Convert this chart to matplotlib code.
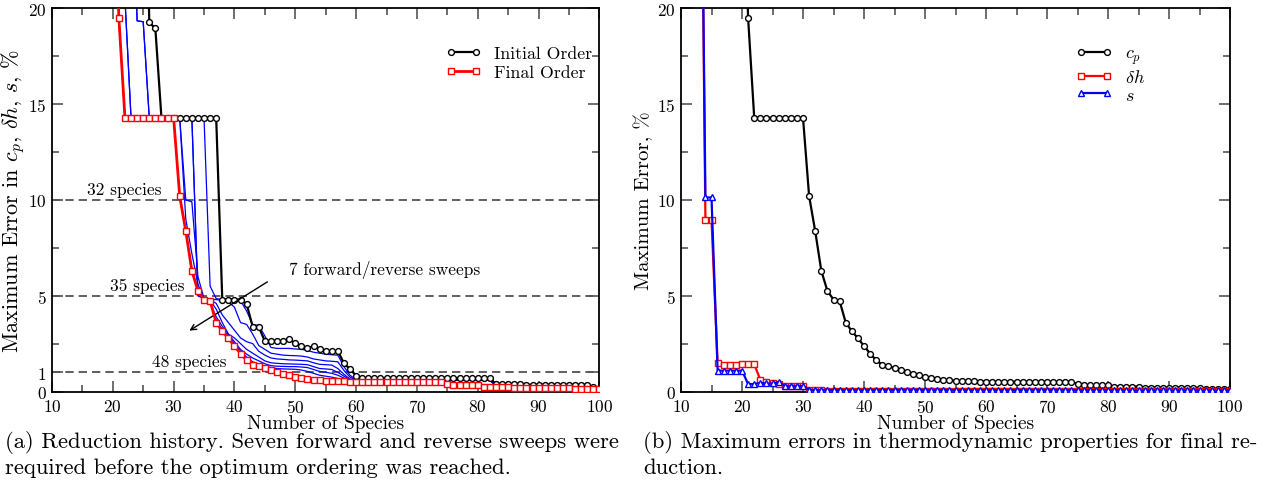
import matplotlib
matplotlib.use("Agg")
import matplotlib.pyplot as plt
import numpy as np

plt.rcParams['font.family'] = ['cmr10', 'DejaVu Serif']
plt.rcParams['mathtext.fontset'] = 'cm'
plt.rcParams['axes.formatter.use_mathtext'] = True
plt.rcParams['axes.unicode_minus'] = False

# --- data: left panel (reduction history) ---
initial_start = 25
initial_order = [35.0, 19.27, 18.95,
                 14.29, 14.29, 14.29, 14.29, 14.29, 14.29, 14.29, 14.29, 14.29, 14.29,
                 4.80, 4.80, 4.80, 4.80, 4.57, 3.38, 3.38,
                 2.62, 2.62, 2.62, 2.62, 2.74, 2.51, 2.39, 2.27, 2.36, 2.22, 2.10, 2.10, 2.12,
                 1.47, 1.17, 0.83,
                 0.69, 0.69, 0.69, 0.69, 0.69, 0.69, 0.69, 0.69, 0.69, 0.69, 0.69,
                 0.69, 0.69, 0.69, 0.69, 0.69, 0.69, 0.69, 0.69, 0.69, 0.69, 0.69,
                 0.38, 0.38, 0.38, 0.38, 0.38,
                 0.35, 0.35, 0.35, 0.35, 0.35, 0.35, 0.35, 0.35, 0.35, 0.35, 0.35,
                 0.22, 0.13]

final_start = 20
final_order = [30.0, 19.50,
               14.29, 14.29, 14.29, 14.29, 14.29, 14.29, 14.29, 14.29, 14.29,
               10.20, 8.37, 6.30, 5.25, 4.80, 4.72, 3.60, 3.15, 2.78, 2.38,
               1.98, 1.63, 1.40, 1.31, 1.23, 1.14, 1.03, 0.92, 0.84, 0.77,
               0.70, 0.65, 0.62, 0.58, 0.56, 0.55, 0.54, 0.53, 0.52, 0.52,
               0.51, 0.51, 0.51, 0.51, 0.51, 0.51, 0.51, 0.51, 0.51, 0.51, 0.51, 0.51, 0.51, 0.51,
               0.39, 0.33, 0.33, 0.33, 0.33, 0.33,
               0.26, 0.26, 0.26, 0.26, 0.26,
               0.20, 0.20, 0.20, 0.20, 0.20, 0.20, 0.20, 0.20, 0.20, 0.20,
               0.15, 0.15, 0.14, 0.13, 0.13]

# intermediate sweeps, values up to 60 species, then a shared tail (61..100)
sweep_starts = [23, 23, 21, 21, 20, 20]
sweeps = [
    [30.0, 19.35, 19.30, 14.29, 14.29, 14.29, 14.29, 14.29, 14.29, 14.29, 14.29, 14.29, 14.29,
     5.50, 4.85, 4.80, 4.80, 4.78, 4.75, 4.20, 3.50, 3.45, 2.90, 2.30, 2.25, 2.25, 2.25,
     2.22, 2.20, 2.15, 2.05, 2.00, 1.95, 1.92, 1.90, 1.30, 0.85, 0.62],
    [30.0, 19.35, 19.30, 14.29, 14.29, 14.29, 14.29, 14.29, 14.29, 14.29, 14.29,
     5.00, 4.85, 4.80, 4.80, 4.75, 4.70, 4.40, 3.60, 3.50, 3.00, 2.40, 2.20, 2.00, 1.95, 1.90,
     1.88, 1.87, 1.85, 1.80, 1.70, 1.65, 1.60, 1.58, 1.55, 1.10, 0.75, 0.60],
    [30.0, 20.5, 14.29, 14.29, 14.29, 14.29, 14.29, 14.29, 14.29, 14.29, 14.29, 14.29, 14.29,
     5.00, 4.85, 4.80, 4.60, 4.00, 3.60, 3.20, 2.80, 2.60, 2.50, 2.10, 1.90, 1.75, 1.70, 1.68,
     1.65, 1.64, 1.62, 1.60, 1.50, 1.42, 1.40, 1.38, 1.20, 0.90, 0.65, 0.58],
    [30.0, 20.5, 14.29, 14.29, 14.29, 14.29, 14.29, 14.29, 14.29, 14.29, 14.29,
     10.00, 9.90, 6.00, 4.85, 4.75, 4.30, 3.60, 3.00, 2.80, 2.50, 2.20, 2.00, 1.80, 1.60, 1.50,
     1.47, 1.45, 1.44, 1.43, 1.42, 1.40, 1.30, 1.20, 1.18, 1.15, 1.00, 0.80, 0.62, 0.57],
    [30.0, 19.50, 14.29, 14.29, 14.29, 14.29, 14.29, 14.29, 14.29, 14.29, 14.29, 14.29,
     9.00, 7.20, 5.60, 4.80, 4.60, 3.90, 3.40, 3.00, 2.60, 2.20, 1.95, 1.75, 1.60, 1.45, 1.35,
     1.32, 1.31, 1.30, 1.30, 1.28, 1.25, 1.15, 1.05, 1.00, 0.95, 0.85, 0.70, 0.60, 0.56],
    [30.0, 19.50, 14.29, 14.29, 14.29, 14.29, 14.29, 14.29, 14.29, 14.29, 14.29,
     10.20, 8.40, 6.40, 5.30, 4.80, 4.70, 3.70, 3.25, 2.90, 2.50, 2.10, 1.80, 1.55, 1.42, 1.33,
     1.25, 1.20, 1.18, 1.17, 1.16, 1.12, 1.05, 0.95, 0.85, 0.80, 0.75, 0.68, 0.60, 0.56, 0.55],
]
sweep_tail = [0.60, 0.60, 0.60, 0.60, 0.60, 0.60, 0.60, 0.60, 0.60, 0.60, 0.60,
              0.60, 0.60, 0.60, 0.60, 0.60, 0.60, 0.60, 0.60, 0.60, 0.60, 0.60,
              0.30, 0.30, 0.30, 0.30, 0.30, 0.30, 0.30, 0.30,
              0.20, 0.20, 0.20, 0.20, 0.20, 0.20, 0.20, 0.20, 0.20, 0.13]

ref_levels = [10, 5, 1]
ref_labels = ['32 species', '35 species', '48 species']

# --- data: right panel (final reduction, per property) ---
prop_start = 13
dh_error = [40.0, 8.95, 8.95, 1.47, 1.40, 1.40, 1.41, 1.42, 1.42, 1.42,
            0.62, 0.48, 0.43, 0.40, 0.27, 0.27, 0.27, 0.27, 0.10, 0.08,
            0.06, 0.05, 0.05, 0.04, 0.04, 0.03, 0.03, 0.03, 0.03, 0.03,
            0.03, 0.03, 0.03, 0.03, 0.03, 0.03, 0.03, 0.03, 0.03, 0.03,
            0.03, 0.03, 0.03, 0.03, 0.03, 0.03, 0.03, 0.03, 0.03, 0.03,
            0.03, 0.03, 0.03, 0.03, 0.03, 0.03, 0.03, 0.03, 0.03, 0.03,
            0.03, 0.03, 0.03, 0.03, 0.03, 0.03, 0.03, 0.03, 0.03, 0.03,
            0.03, 0.03, 0.03, 0.03, 0.03, 0.03, 0.03, 0.03, 0.03, 0.03,
            0.03, 0.03, 0.03, 0.03, 0.03, 0.03, 0.03, 0.03]
s_error = [40.0, 10.13, 10.13, 1.09, 1.09, 1.09, 1.09, 1.09, 0.39, 0.39,
           0.45, 0.42, 0.42, 0.49, 0.29, 0.29, 0.29, 0.29, 0.10, 0.08,
           0.08, 0.08, 0.08, 0.08, 0.08, 0.08, 0.08, 0.08, 0.08, 0.08,
           0.08, 0.08, 0.08, 0.08, 0.08, 0.08, 0.08, 0.08, 0.08, 0.08,
           0.07, 0.07, 0.07, 0.07, 0.07, 0.07, 0.07, 0.07, 0.07, 0.07,
           0.07, 0.07, 0.07, 0.07, 0.07, 0.07, 0.07, 0.07, 0.07, 0.07,
           0.07, 0.07, 0.07, 0.07, 0.07, 0.07, 0.07, 0.07, 0.07, 0.07,
           0.06, 0.06, 0.06, 0.06, 0.06, 0.06, 0.06, 0.06, 0.06, 0.06,
           0.06, 0.06, 0.06, 0.06, 0.06, 0.06, 0.06, 0.06]
cp_start = final_start
cp_error = final_order

captions = ['(a) Reduction history. Seven forward and reverse sweeps were',
            'required before the optimum ordering was reached.',
            '(b) Maximum errors in thermodynamic properties for final re-',
            'duction.']


def species(start, values):
    return np.arange(start, start + len(values))


def style_axes(ax, yticks):
    ax.set_xlim(10, 100)
    ax.set_ylim(0, 20)
    ax.set_xticks(np.arange(10, 101, 10))
    ax.set_xticks(np.arange(15, 100, 10), minor=True)
    ax.set_yticks(yticks)
    ax.set_yticks([2.5, 7.5, 12.5, 17.5], minor=True)
    ax.tick_params(which='both', direction='in', top=True, right=True,
                   color='#555555', width=1.2, labelsize=12.5, pad=4)
    ax.tick_params(axis='x', which='both', pad=4.5)
    ax.tick_params(which='major', length=8)
    ax.tick_params(which='minor', length=5)
    for sp in ax.spines.values():
        sp.set_linewidth(1.3)
    ax.set_xlabel('Number of Species', fontsize=14, labelpad=-0.5)


fig = plt.figure(figsize=(12.67, 4.89), dpi=100)
ax1 = fig.add_axes([0.0410, 0.1973, 0.4321, 0.7836])
ax2 = fig.add_axes([0.5375, 0.1973, 0.4333, 0.7836])

# --- left panel ---
for lvl, lab, xt in zip(ref_levels, ref_labels, [15.7, 19.6, 26.4]):
    ax1.axhline(lvl, color='#444444', lw=1.2, ls=(0, (5, 3)), zorder=1)
    ax1.text(xt, lvl + 0.15, lab, fontsize=12.5, va='bottom', ha='left')

for st, vals in zip(sweep_starts, sweeps):
    v = vals + sweep_tail
    ax1.plot(species(st, v), v, color='blue', lw=0.9, zorder=2)

ax1.plot(species(initial_start, initial_order), initial_order, color='black', lw=1.6,
         marker='o', ms=4.2, mfc='white', mew=1.0, label='Initial Order', zorder=3)
ax1.plot(species(final_start, final_order), final_order, color='red', lw=2.0,
         marker='s', ms=3.8, mfc='white', mew=1.0, label='Final Order', zorder=4)

ax1.annotate('', xy=(32.2, 3.1), xytext=(45.8, 5.8),
             arrowprops=dict(arrowstyle='->', color='black', lw=1.0))
ax1.text(48.9, 6.4, '7 forward/reverse sweeps', fontsize=12.5, va='center', ha='left')

style_axes(ax1, [0, 1, 5, 10, 15, 20])
ax1.set_ylabel(r'Maximum Error in $c_p$, $\delta h$, $s$, %', fontsize=16)
ax1.yaxis.set_label_coords(-0.045, 0.5)
ax1.legend(loc='upper left', bbox_to_anchor=(0.69, 0.945), frameon=False, fontsize=12.8,
           numpoints=2, handlelength=2.0, handletextpad=0.7, labelspacing=0.2)

# --- right panel ---
ax2.plot(species(cp_start, cp_error), cp_error, color='black', lw=1.6,
         marker='o', ms=4.2, mfc='white', mew=1.0, label=r'$c_p$', zorder=3)
ax2.plot(species(prop_start, dh_error), dh_error, color='red', lw=1.6,
         marker='s', ms=3.8, mfc='white', mew=1.0, label=r'$\delta h$', zorder=4)
ax2.plot(species(prop_start, s_error), s_error, color='blue', lw=1.6,
         marker='^', ms=4.2, mfc='white', mew=1.0, label=r'$s$', zorder=5)

style_axes(ax2, [0, 5, 10, 15, 20])
ax2.set_ylabel('Maximum Error, %', fontsize=15, labelpad=3)
ax2.legend(loc='upper left', bbox_to_anchor=(0.69, 0.945), frameon=False, fontsize=13,
           numpoints=2, handlelength=2.0, handletextpad=0.7, labelspacing=0.1)

# --- captions ---
fig.text(5 / 1267, 1 - 443 / 489, captions[0], fontsize=16.3, va='center', ha='left')
fig.text(5 / 1267, 1 - 468 / 489, captions[1], fontsize=16.3, va='center', ha='left')
fig.text(643 / 1267, 1 - 443 / 489, captions[2], fontsize=16.3, va='center', ha='left')
fig.text(643 / 1267, 1 - 468 / 489, captions[3], fontsize=16.3, va='center', ha='left')

fig.savefig('out.png', dpi=100)
